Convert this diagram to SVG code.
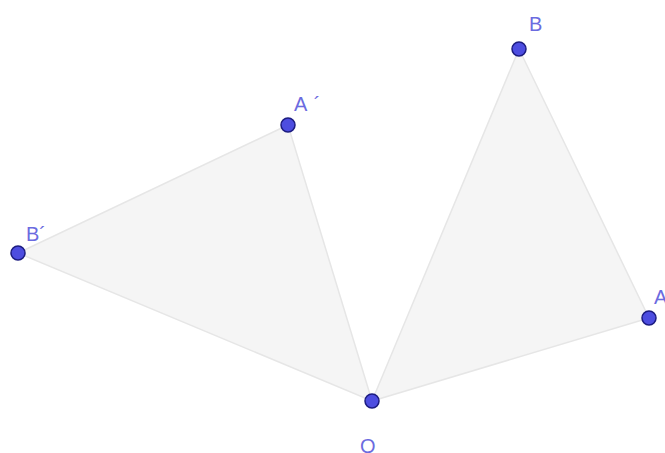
<svg xmlns="http://www.w3.org/2000/svg" width="665" height="453" viewBox="0 0 665 453">
<style>
.tri{fill:#f5f5f5;stroke:#e6e6e6;stroke-width:1.5}
.pt{fill:#4d4de0;stroke:#1c1c80;stroke-width:1.5}
.lb{font-family:"Liberation Sans",Arial,sans-serif;font-size:20px;fill:#6b6be0}
</style>
<rect width="665" height="453" fill="#ffffff"/>
<g id="connectors">
<polygon class="tri" points="288,125 18,253 372,401"/>
<polygon class="tri" points="519,49 649,318 372,401"/>
</g>
<g id="O"><circle class="pt" cx="372" cy="401" r="7"/><text class="lb" x="360" y="453">O</text></g>
<g id="A1"><circle class="pt" cx="288" cy="125" r="7"/><text class="lb" x="294" y="111">A <tspan dx="2">´</tspan></text></g>
<g id="B1"><circle class="pt" cx="18" cy="253" r="7"/><text class="lb" x="26" y="241">B´</text></g>
<g id="B"><circle class="pt" cx="519" cy="49" r="7"/><text class="lb" x="529" y="31">B</text></g>
<g id="A"><circle class="pt" cx="649" cy="318" r="7"/><text class="lb" x="654" y="304">A</text></g>
</svg>
